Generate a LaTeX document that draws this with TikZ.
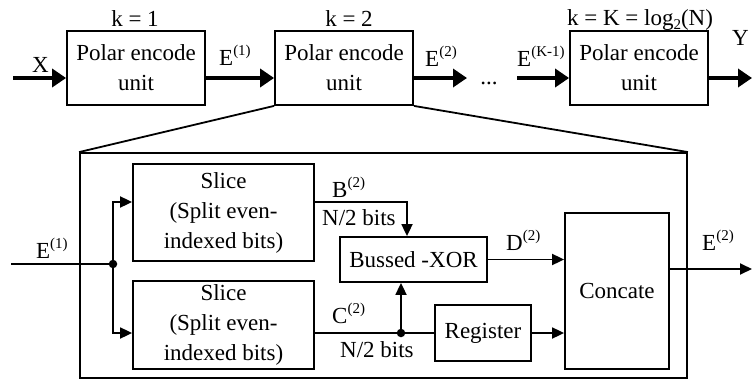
\documentclass[tikz,border=0pt]{standalone}
\usepackage{fontspec}
\setmainfont{Liberation Serif}
\usetikzlibrary{arrows.meta}
\newcommand\spx[1]{\raisebox{9.5pt}{\fontsize{15}{15}\selectfont #1}}
\newcommand\sbx[1]{\raisebox{-4pt}{\fontsize{15}{15}\selectfont #1}}
\begin{document}
\begin{tikzpicture}[x=1pt,y=-1pt,font=\fontsize{23}{30}\selectfont,
  box/.style={draw,line width=1.8pt,align=center,inner sep=0pt},
  pbox/.style={box,minimum width=138pt,minimum height=74pt},
  bigarrow/.style={line width=4pt,-{Triangle[length=14pt,width=18pt]}},
  wire/.style={line width=1.8pt},
  warr/.style={wire,-{Triangle[length=12pt,width=11pt]}},
  lab/.style={inner sep=0pt,anchor=base west},
  jdot/.style={circle,fill,inner sep=0pt,minimum size=8.5pt}]
\useasboundingbox (0,0) rectangle (752,380);
% top level
\node[pbox] (u1) at (136,68) {Polar encode\\unit};
\node[pbox] (u2) at (344,68) {Polar encode\\unit};
\node[pbox] (u3) at (639,68) {Polar encode\\unit};
\coordinate (ya) at (0,78);
\coordinate (xin) at (13,78);
\coordinate (e2end) at (467,78);
\coordinate (eKstart) at (517,78);
\coordinate (yout) at (752,78);
\draw[bigarrow] (xin) -- (ya -| u1.west);
\draw[bigarrow] (ya -| u1.east) -- (ya -| u2.west);
\draw[bigarrow] (ya -| u2.east) -- (e2end);
\draw[bigarrow] (eKstart) -- (ya -| u3.west);
\draw[bigarrow] (ya -| u3.east) -- (yout);
\node[inner sep=0pt,anchor=base] (dots) at (489,84) {...};
\node[lab] (lx) at (32,72) {X};
\node[lab] (le1) at (219,65) {E\spx{(1)}};
\node[lab] (le2) at (425,66) {E\spx{(2)}};
\node[lab] (leK) at (517,66) {E\spx{(K-1)}};
\node[lab] (ly) at (732,45) {Y};
\node[inner sep=0pt,anchor=base] (k1) at (135,27) {k = 1};
\node[inner sep=0pt,anchor=base] (k2) at (349,27) {k = 2};
\node[inner sep=0pt,anchor=base] (kK) at (640,25) {k = K = log\sbx{2}(N)};
% zoomed detail
\node[draw,line width=1.8pt,minimum width=607pt,minimum height=225pt,inner sep=0pt] (outer) at (383.5,265.5) {};
\draw[wire] (u2.south west) -- (outer.north west);
\draw[wire] (u2.south east) -- (outer.north east);
\node[box,minimum width=181pt,minimum height=97pt] (s1) at (223.5,212.5) {Slice\\(Split even-\\indexed bits)};
\node[box,minimum width=181pt,minimum height=88pt] (s2) at (223.5,325) {Slice\\(Split even-\\indexed bits)};
\node[box,minimum width=147pt,minimum height=45pt] (xo) at (413.5,259.5) {Bussed -XOR};
\node[box,minimum width=96pt,minimum height=56pt] (rg) at (483,333) {Register};
\node[box,minimum width=104pt,minimum height=156pt] (cc) at (617,291) {Concate};
\coordinate (rB) at (0,202);
\coordinate (rC) at (0,333);
\coordinate (rE) at (0,269);
\coordinate (cB) at (407,0);
\coordinate (ein) at (11,264);
\coordinate (eout) at (752,269);
\node[jdot] (j1) at (113,264) {};
\node[jdot] (j2) at (401,333) {};
\draw[wire] (ein) -- (j1.center);
\draw[warr] (j1.center) |- (rB -| s1.west);
\draw[warr] (j1.center) |- (rC -| s2.west);
\draw[warr] (rB -| s1.east) -| (cB |- xo.north);
\draw[wire] (rC -| s2.east) -- (rC -| rg.west);
\draw[warr] (j2.center) -- (j2 |- xo.south);
\draw[warr] (rg.east) -- (rg.east -| cc.west);
\draw[warr] (xo.east) -- (xo.east -| cc.west);
\draw[warr] (rE -| cc.east) -- (eout);
\node[lab] (lE1) at (36,258) {E\spx{(1)}};
\node[lab] (lB) at (332,197) {B\spx{(2)}};
\node[lab] (lnB) at (322,225) {N/2 bits};
\node[lab] (lC) at (332,323) {C\spx{(2)}};
\node[lab] (lnC) at (340,357) {N/2 bits};
\node[lab] (lD) at (506,250) {D\spx{(2)}};
\node[lab] (lE2) at (702,250) {E\spx{(2)}};
\end{tikzpicture}
\end{document}
